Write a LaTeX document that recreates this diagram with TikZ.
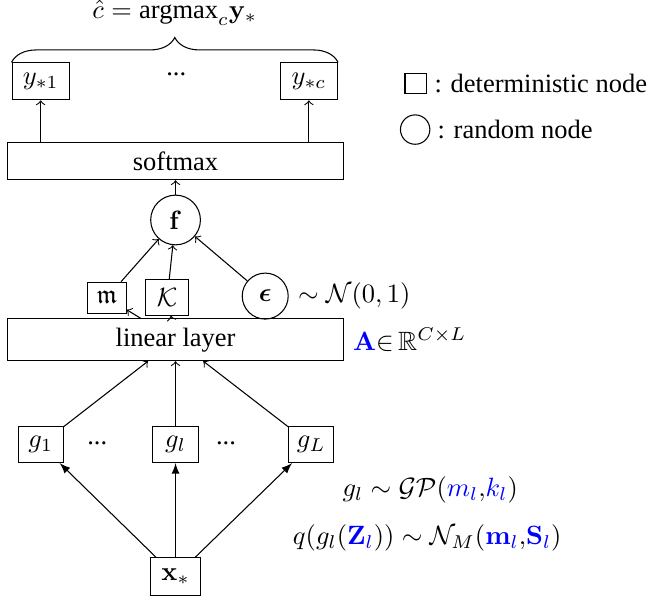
\documentclass[tikz,border=0pt]{standalone}
\usepackage{amsmath,amssymb}
\usepackage[no-math]{fontspec}
\setmainfont{Liberation Serif}
\usetikzlibrary{decorations.pathreplacing}

\begin{document}
\begin{tikzpicture}[>=to,
    detnode/.style={draw, rectangle, minimum width=0.6cm, minimum height=0.48cm, inner sep=1pt},
    rndnode/.style={draw, circle, inner sep=0pt},
    layer/.style={draw, rectangle, minimum width=4.45cm, minimum height=0.49cm}]
    \useasboundingbox (0,0) rectangle (8.68,7.92);

    \node[detnode, minimum width=0.76cm, minimum height=0.49cm] (y1) at (0.54,6.84) {$y_{*1}$};
    \node[detnode, minimum width=0.76cm, minimum height=0.49cm] (yc) at (4.10,6.84) {$y_{*c}$};
    \node (ydots) at (2.34,6.93) {...};
    \draw[decorate, decoration={brace, amplitude=0.33cm}] (y1.north west) -- (yc.north east)
        node[midway, above=0.36cm] (chat) {$\hat{c} = \text{argmax}_c \mathbf{y}_*$};

    \node[layer] (softmax) at (2.33,5.78) {softmax};
    \node[rndnode, minimum size=0.66cm] (f) at (2.33,5.00) {$\mathbf{f}$};
    \node[detnode, minimum width=0.51cm, minimum height=0.41cm] (m) at (1.42,3.97) {$\mathfrak{m}$};
    \node[detnode, minimum width=0.57cm, minimum height=0.47cm] (K) at (2.22,3.97) {$\mathcal{K}$};
    \node[rndnode, minimum size=0.61cm] (eps) at (3.52,3.99) {$\boldsymbol{\epsilon}$};
    \node[right] (epsdist) at (eps.east) {$\sim \mathcal{N}(0,1)$};

    \node[layer, minimum height=0.48cm] (linear) at (2.33,3.41) {linear layer};
    \node[right] (Alabel) at (linear.east) {$\textcolor{blue}{\mathbf{A}}{\in}\,\mathbb{R}^{C\times L}$};

    \node[detnode] (g1) at (0.54,2.02) {$g_1$};
    \node (gdots1) at (1.29,2.04) {...};
    \node[detnode] (gl) at (2.33,2.02) {$g_l$};
    \node (gdots2) at (3.00,2.04) {...};
    \node[detnode] (gL) at (4.13,2.02) {$g_L$};

    \node (gplabel) at (5.71,1.42) {$g_l \sim \mathcal{GP}(\textcolor{blue}{m_l}{,}\textcolor{blue}{k_l})$};
    \node (qlabel) at (5.67,0.78) {$q(g_l(\textcolor{blue}{\mathbf{Z}_l})) \sim \mathcal{N}_M(\textcolor{blue}{\mathbf{m}_l}{,}\textcolor{blue}{\mathbf{S}_l})$};

    \node[detnode, minimum width=0.66cm, minimum height=0.5cm] (xs) at (2.33,0.27) {$\mathbf{x}_*$};

    \node[draw, minimum width=0.29cm, minimum height=0.27cm, inner sep=0pt] (legdet) at (5.52,6.81) {};
    \node[right, inner sep=2.5pt] (legdettext) at (legdet.east) {: deterministic node};
    \node[draw, circle, minimum size=0.39cm, inner sep=0pt] (legrnd) at (5.51,6.20) {};
    \node[right, inner sep=2.5pt] (legrndtext) at (legrnd.east) {: random node};

    \draw[->] (softmax.north -| y1) -- (y1);
    \draw[->] (softmax.north -| yc) -- (yc);
    \draw[->] (f) -- (softmax);
    \draw[->] (m) -- (f);
    \draw[->] (K) -- (f);
    \draw[->] (eps) -- (f);
    \draw[->] (linear) -- (m);
    \draw[->] (linear) -- (K);
    \draw[->] (g1) -- (linear);
    \draw[->] (gl) -- (linear);
    \draw[->] (gL) -- (linear);
    \draw[-latex] (xs) -- (g1);
    \draw[-latex] (xs) -- (gl);
    \draw[-latex] (xs) -- (gL);
\end{tikzpicture}
\end{document}
